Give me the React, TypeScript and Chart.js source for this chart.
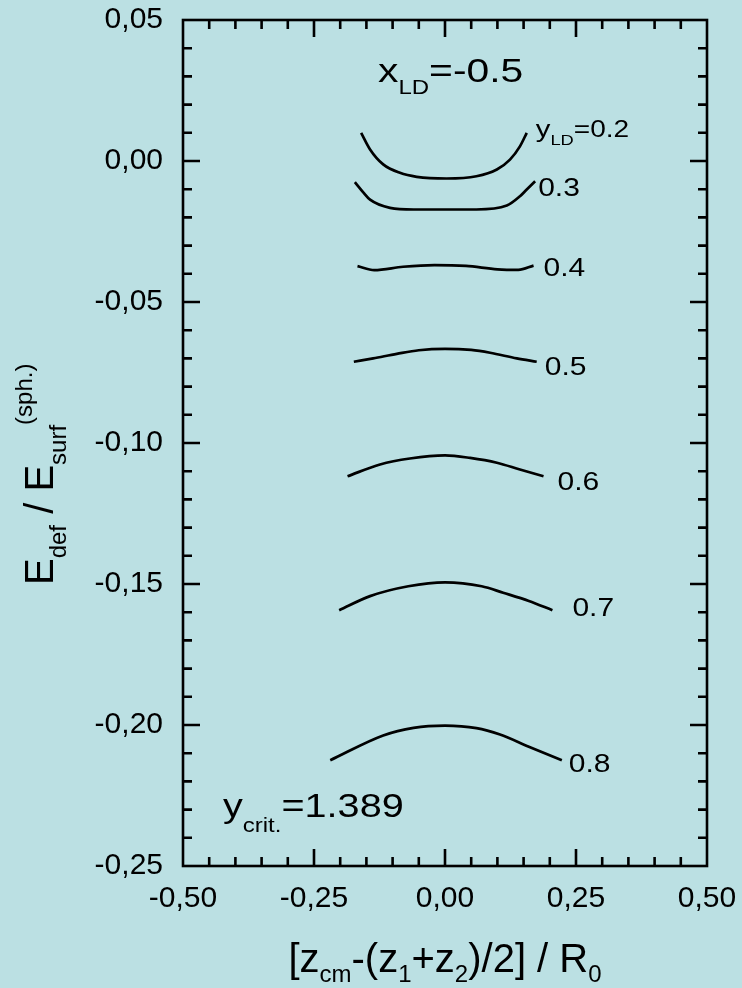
import React, { useEffect, useRef } from "react";
import { Chart, registerables } from "chart.js";

Chart.register(...registerables);

// Deformation energy curves for x_LD = -0.5, one per y_LD value
const Y_LD_VALUES = [0.2, 0.3, 0.4, 0.5, 0.6, 0.7, 0.8];

const Z_02 = [-0.16, -0.143, -0.118, -0.086, -0.054, 0.003, 0.06, 0.099, 0.124, 0.143, 0.156];
const E_02 = [0.01, 0.0041, -0.0012, -0.0042, -0.0056, -0.0062, -0.0054, -0.003, 0.0005, 0.0052, 0.01];

const Z_03 = [-0.172, -0.156, -0.143, -0.105, -0.06, 0.0, 0.06, 0.118, 0.143, 0.156, 0.172];
const E_03 = [-0.0075, -0.0111, -0.0137, -0.0166, -0.0172, -0.0172, -0.0172, -0.0158, -0.0125, -0.0101, -0.0072];

const Z_04 = [-0.167, -0.135, -0.08, -0.02, 0.04, 0.1, 0.14, 0.169];
const E_04 = [-0.0373, -0.0387, -0.0375, -0.0369, -0.0372, -0.0384, -0.0386, -0.0371];

const Z_05 = [-0.174, -0.137, -0.092, -0.05, 0.0, 0.05, 0.086, 0.137, 0.175];
const E_05 = [-0.0712, -0.07, -0.0684, -0.0671, -0.0666, -0.067, -0.068, -0.07, -0.0712];

const Z_06 = [-0.186, -0.124, -0.067, 0.0, 0.048, 0.099, 0.143, 0.188];
const E_06 = [-0.1118, -0.1076, -0.1055, -0.1044, -0.1053, -0.107, -0.1094, -0.1118];

const Z_07 = [-0.202, -0.143, -0.07, 0.0, 0.07, 0.111, 0.16, 0.205];
const E_07 = [-0.1593, -0.1543, -0.1508, -0.1494, -0.1508, -0.1531, -0.156, -0.1593];

const Z_08 = [-0.219, -0.118, -0.06, 0.0, 0.06, 0.105, 0.16, 0.223];
const E_08 = [-0.2125, -0.2037, -0.201, -0.2002, -0.2011, -0.2034, -0.2077, -0.2125];

const CURVE_Z = [Z_02, Z_03, Z_04, Z_05, Z_06, Z_07, Z_08];
const CURVE_E = [E_02, E_03, E_04, E_05, E_06, E_07, E_08];

// Axis ticks
const X_TICK_VALUES = [-0.5, -0.25, 0, 0.25, 0.5];
const Y_TICK_VALUES = [-0.25, -0.2, -0.15, -0.1, -0.05, 0, 0.05];
const X_MINOR_STEP = 0.05;
const Y_MINOR_STEP = 0.01;

const X_LD = "-0.5";
const Y_CRIT = "1.389";

const FONT = "'Liberation Sans', Arial, Helvetica, sans-serif";
const BG = "#bbe0e3";

type Seg = { t: string; size: number; dy?: number };

function drawRich(ctx: CanvasRenderingContext2D, x: number, y: number, segs: Seg[], sx = 1) {
  ctx.save();
  ctx.translate(x, y);
  ctx.scale(sx, 1);
  ctx.textAlign = "left";
  ctx.textBaseline = "alphabetic";
  ctx.fillStyle = "#000";
  let cx = 0;
  for (const s of segs) {
    ctx.font = `${s.size}px ${FONT}`;
    ctx.fillText(s.t, cx, s.dy || 0);
    cx += ctx.measureText(s.t).width;
  }
  ctx.restore();
}

function richWidth(ctx: CanvasRenderingContext2D, segs: Seg[], sx = 1) {
  let w = 0;
  ctx.save();
  for (const s of segs) {
    ctx.font = `${s.size}px ${FONT}`;
    w += ctx.measureText(s.t).width;
  }
  ctx.restore();
  return w * sx;
}

const fmt = (v: number) => {
  const r = Math.abs(v) < 1e-9 ? 0 : v;
  return r.toFixed(2).replace(".", ",");
};

// Per-curve label offsets (px) from each curve's right end: [dx, baseline dy]
const LABEL_OFFSETS: [number, number][] = [
  [9, 4],
  [3, 15],
  [10, 10],
  [8, 13],
  [14, 14],
  [20, 6],
  [7, 12],
];

const framePlugin = {
  id: "frameAndText",
  afterDraw(chart: any) {
    const ctx: CanvasRenderingContext2D = chart.ctx;
    const { left, right, top, bottom } = chart.chartArea;
    const xs = chart.scales.x;
    const ys = chart.scales.y;
    ctx.save();
    ctx.strokeStyle = "#000";
    ctx.lineWidth = 2.6;
    ctx.lineCap = "butt";

    // inward ticks on all four sides
    const nx = Math.round((xs.max - xs.min) / X_MINOR_STEP);
    for (let i = 1; i < nx; i++) {
      const v = xs.min + i * X_MINOR_STEP;
      const p = xs.getPixelForValue(v);
      const len = i % 5 === 0 ? 17 : 9;
      ctx.beginPath();
      ctx.moveTo(p, bottom);
      ctx.lineTo(p, bottom - len);
      ctx.moveTo(p, top);
      ctx.lineTo(p, top + len);
      ctx.stroke();
    }
    const ny = Math.round((ys.max - ys.min) / Y_MINOR_STEP);
    for (let j = 1; j < ny; j++) {
      const v = ys.min + j * Y_MINOR_STEP;
      const p = ys.getPixelForValue(v);
      const len = j % 5 === 0 ? 17 : 9;
      ctx.beginPath();
      ctx.moveTo(left, p);
      ctx.lineTo(left + len, p);
      ctx.moveTo(right, p);
      ctx.lineTo(right - len, p);
      ctx.stroke();
    }
    ctx.strokeRect(left, top, right - left, bottom - top);

    // curve labels
    CURVE_Z.forEach((zs, k) => {
      const z = zs[zs.length - 1];
      const e = CURVE_E[k][CURVE_E[k].length - 1];
      const px = xs.getPixelForValue(z) + LABEL_OFFSETS[k][0];
      const py = ys.getPixelForValue(e) + LABEL_OFFSETS[k][1];
      const val = Y_LD_VALUES[k].toFixed(1);
      if (k === 0) {
        drawRich(ctx, px, py, [
          { t: "y", size: 24 },
          { t: "LD", size: 15, dy: 8 },
          { t: "=" + val, size: 23 },
        ], 1.22);
      } else {
        drawRich(ctx, px, py, [{ t: val, size: 25 }], 1.2);
      }
    });

    // parameter annotations
    drawRich(ctx, left + 195, top + 62, [
      { t: "x", size: 34 },
      { t: "LD", size: 20, dy: 12 },
      { t: "=" + X_LD, size: 34 },
    ], 1.2);
    drawRich(ctx, left + 40, bottom - 49, [
      { t: "y", size: 33 },
      { t: "crit.", size: 20, dy: 15 },
      { t: "=" + Y_CRIT, size: 33 },
    ], 1.2);

    // x axis title
    const xTitle: Seg[] = [
      { t: "[z", size: 40 },
      { t: "cm", size: 24, dy: 10 },
      { t: "-(z", size: 40 },
      { t: "1", size: 24, dy: 10 },
      { t: "+z", size: 40 },
      { t: "2", size: 24, dy: 10 },
      { t: ")/2] / R", size: 40 },
      { t: "0", size: 24, dy: 10 },
    ];
    const cx = (left + right) / 2;
    drawRich(ctx, cx - richWidth(ctx, xTitle) / 2, 972, xTitle);

    // y axis title (rotated)
    ctx.save();
    ctx.translate(53, 585);
    ctx.rotate(-Math.PI / 2);
    drawRich(ctx, 0, 0, [
      { t: "E", size: 40 },
      { t: "def", size: 24, dy: 13 },
      { t: " / E", size: 40 },
      { t: "surf", size: 24, dy: 13 },
      { t: "(sph.)", size: 24, dy: -21 },
    ]);
    ctx.restore();

    ctx.restore();
  },
};

export default function App() {
  const ref = useRef<HTMLCanvasElement | null>(null);

  useEffect(() => {
    if (!ref.current) return;
    const datasets = CURVE_Z.map((zs, k) => ({
      label: "y_LD=" + Y_LD_VALUES[k],
      data: zs.map((z, i) => ({ x: z, y: CURVE_E[k][i] })),
      showLine: true,
      borderColor: "#000",
      borderWidth: 2.7,
      pointRadius: 0,
      cubicInterpolationMode: "monotone" as const,
      fill: false,
    }));

    const chart = new Chart(ref.current, {
      type: "scatter",
      data: { datasets },
      options: {
        animation: false,
        responsive: false,
        devicePixelRatio: 1,
        layout: { padding: { left: 0, top: 20, right: 35, bottom: 0 } },
        plugins: { legend: { display: false }, tooltip: { enabled: false } },
        scales: {
          x: {
            type: "linear",
            min: -0.5,
            max: 0.5,
            afterBuildTicks: (s: any) => {
              s.ticks = X_TICK_VALUES.map((v) => ({ value: v }));
            },
            afterFit: (s: any) => {
              s.height = 122;
              s.paddingLeft = 0;
              s.paddingRight = 0;
            },
            grid: { display: false, drawTicks: false },
            border: { display: false },
            ticks: {
              color: "#000",
              font: { family: FONT, size: 30 },
              padding: 15,
              maxRotation: 0,
              autoSkip: false,
              callback: (v: any) => fmt(Number(v)),
            },
          },
          y: {
            type: "linear",
            min: -0.25,
            max: 0.05,
            afterBuildTicks: (s: any) => {
              s.ticks = Y_TICK_VALUES.map((v) => ({ value: v }));
            },
            afterFit: (s: any) => {
              s.width = 183;
              s.paddingTop = 0;
              s.paddingBottom = 0;
            },
            grid: { display: false, drawTicks: false },
            border: { display: false },
            ticks: {
              color: "#000",
              font: { family: FONT, size: 30 },
              padding: 20,
              autoSkip: false,
              callback: (v: any) => fmt(Number(v)),
            },
          },
        },
      },
      plugins: [framePlugin],
    });
    return () => chart.destroy();
  }, []);

  return (
    <div
      style={{
        position: "fixed",
        left: 0,
        top: 0,
        width: 742,
        height: 988,
        background: BG,
      }}
    >
      <canvas ref={ref} width={742} height={988} style={{ width: 742, height: 988, display: "block" }} />
    </div>
  );
}
